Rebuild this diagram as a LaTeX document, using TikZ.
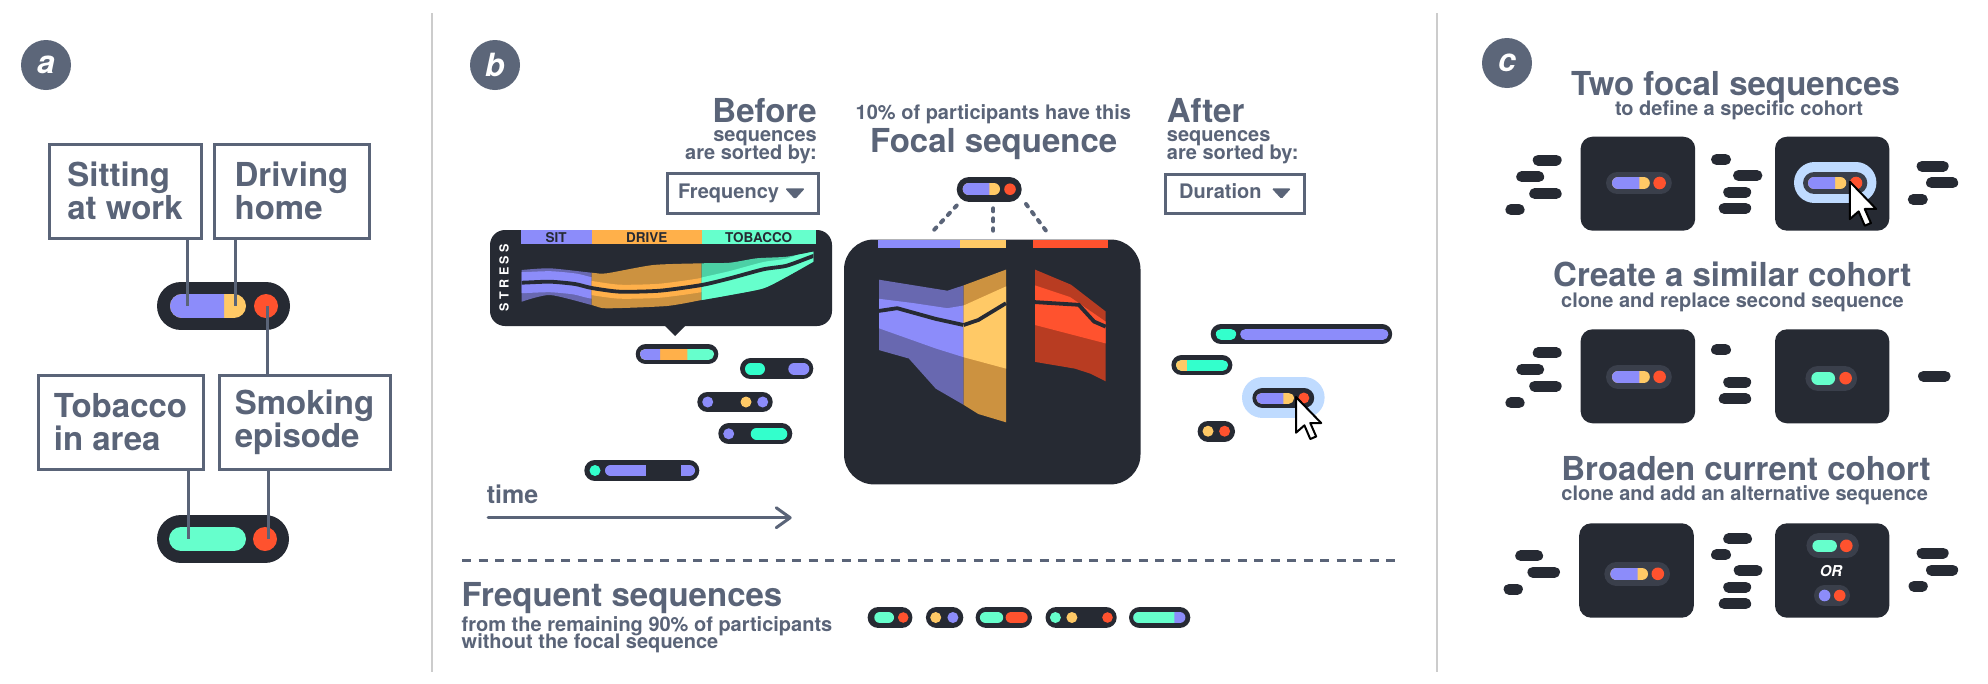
\documentclass[tikz,border=0pt]{standalone}
\usepackage{fontspec}
\setmainfont{TeX Gyre Heros}
\usetikzlibrary{arrows.meta}
\definecolor{cTg}{RGB}{90,100,120}
\definecolor{cLab}{RGB}{92,102,121}
\definecolor{cDk}{RGB}{38,42,51}
\definecolor{cDkB}{RGB}{58,63,75}
\definecolor{cPu}{RGB}{140,140,250}
\definecolor{cPuD}{RGB}{104,104,176}
\definecolor{cYe}{RGB}{255,201,102}
\definecolor{cYeD}{RGB}{204,146,64}
\definecolor{cOr}{RGB}{255,176,74}
\definecolor{cTe}{RGB}{102,255,204}
\definecolor{cTeB}{RGB}{51,255,204}
\definecolor{cTeD}{RGB}{76,208,165}
\definecolor{cRd}{RGB}{255,82,46}
\definecolor{cRdD}{RGB}{184,60,34}
\definecolor{cHl}{RGB}{191,219,255}
\definecolor{cDiv}{RGB}{204,204,204}
\newcommand\fbig{\fontsize{33}{33}\selectfont\bfseries}
\newcommand\fsub{\fontsize{20}{18}\selectfont\bfseries}
\newcommand\fblock{\fontsize{20}{18}\selectfont\bfseries\lineskiplimit=-100pt\relax}
% y, h, x1, x2, style
\newcommand\pillbar[5]{\draw[line width=#2, line cap=round, #5] ({#3+#2/2},#1) -- ({#4-#2/2},#1);}
% y, h, x1, x2, xa, xb, style
\newcommand\pillseg[7]{\begin{scope}\clip (#5,{#1-#2}) rectangle (#6,{#1+#2});\pillbar{#1}{#2}{#3}{#4}{#7}\end{scope}}
\newcommand\stresscenter{(505,283) (521.7,282.7) (550,281.7) (575,284) (591.7,288) (620,291.7) (660,290.7) (701.7,285) (730,278.3) (763.3,269.3) (786.7,265.7) (813.3,256) (828,252)}
\tikzset{
  abox/.style={draw=cTg, line width=3, align=left, font=\fbig, text=cTg, inner sep=0},
  lbl/.style={circle, fill=cLab, minimum size=50, inner sep=0, text=white, font=\fontsize{32}{32}\selectfont\bfseries\itshape},
  gline/.style={draw=cTg, line width=3},
  ttl/.style={anchor=base, font=\fbig, text=cTg, inner sep=0},
  sub/.style={anchor=base, font=\fsub, text=cTg, inner sep=0},
  ddbox/.style={draw=cTg, line width=3, inner sep=0},
  cbox/.style={fill=cDk, rounded corners=12},
  fdots/.style={cTg, line width=4, line cap=round, dash pattern=on 3 off 7},
  mcursor/.pic={\draw[black, fill=white, line width=2, line join=round] (0,0) -- (0,17) -- (4,13.5) -- (6.8,20) -- (9.6,18.8) -- (6.8,12.4) -- (12,12.4) -- cycle;}
}
\begin{document}
\begin{tikzpicture}[x=1pt,y=-1pt]
\useasboundingbox (0,0) rectangle (1988,683);
\fill[white] (0,0) rectangle (1988,683);

% dividers
\coordinate (d1a) at (432,13); \coordinate (d1b) at (432,672);
\coordinate (d2a) at (1437,13); \coordinate (d2b) at (1437,672);
\draw[cDiv, line width=2.5] (d1a) -- (d1b);
\draw[cDiv, line width=2.5] (d2a) -- (d2b);

% ================= panel a
\node[lbl] (la) at (46,65) {a};
\node[abox, minimum width=152, minimum height=94] (sit) at (125,191) {Sitting\\at work};
\node[abox, minimum width=155, minimum height=94] (drv) at (291.5,191) {Driving\\home};
\node[abox, minimum width=165, minimum height=94] (tob) at (120.5,422) {Tobacco\\in area};
\node[abox, minimum width=171, minimum height=94] (smk) at (304.5,422) {Smoking\\episode};
% top pill
\pillbar{306}{48}{157}{290}{cDk}
\pillbar{306}{24}{170}{246}{cYe}
\pillseg{306}{24}{170}{246}{160}{224}{cPu}
\fill[cRd] (266,306) circle (12);
% bottom pill
\pillbar{539}{48}{157}{289}{cDk}
\pillbar{539}{24}{169}{246}{cTe}
\fill[cRd] (265,539) circle (12);
\coordinate (pS) at (187,306);
\coordinate (pD) at (235,306);
\coordinate (pR) at (267,306);
\coordinate (qT) at (188,539);
\coordinate (qR) at (268,539);
\draw[gline] (sit.south -| pS) -- (pS);
\draw[gline] (drv.south -| pD) -- (pD);
\draw[gline] (pR) -- (pR |- smk.north);
\draw[gline] (tob.south -| qT) -- (qT);
\draw[gline] (smk.south -| qR) -- (qR);

% ================= panel b
\node[lbl] (lb) at (495,65) {b};
\node[anchor=north east, font=\fblock, text=cTg, inner sep=0, align=right] (bef) at (817,98) {{\fbig Before}\\[1.5pt]sequences\\[-0.4pt]are sorted by:};
\node[ddbox, minimum width=151, minimum height=40] (freq) at (742.5,193) {};
\node[anchor=base west, font=\fsub, text=cTg, inner sep=0] (freqt) at (678,198) {Frequency};
\fill[cTg, rounded corners=1.5] (785,188.3) -- (805,188.3) -- (795,199.3) -- cycle;

% stress chart
\fill[cDk, rounded corners=15] (490,230) rectangle (832,326);
\fill[cDk] (664,325) -- (686,325) -- (675,336) -- cycle;
\fill[cPu] (521,230) rectangle (591.7,244);
\fill[cOr] (591.7,230) rectangle (701.7,244);
\fill[cTe] (701.7,230) rectangle (815.5,244);
\node[font=\fontsize{13.5}{13.5}\selectfont\bfseries, text=cDk, inner sep=0] (hsit) at (556,237.5) {SIT};
\node[font=\fontsize{13.5}{13.5}\selectfont\bfseries, text=cDk, inner sep=0] (hdrv) at (646.7,237.5) {DRIVE};
\node[font=\fontsize{13.5}{13.5}\selectfont\bfseries, text=cDk, inner sep=0] (htob) at (758.7,237.5) {TOBACCO};
\node[rotate=90, font=\fontsize{12.5}{12.5}\selectfont\bfseries, text=white, inner sep=0] (stress) at (504,277.5) {S\kern3.4ptT\kern3.4ptR\kern3.4ptE\kern3.4ptS\kern3.4ptS};
\begin{scope}
\clip plot[smooth, tension=0.4] coordinates {(521.7,270) (550,268.3) (591.7,272.7) (606.7,273.3) (653.3,265) (701.7,263.3) (730,262.7) (756.7,258.3) (786.7,256.7) (813.3,251.7)}
  -- plot[smooth, tension=0.4] coordinates {(813.3,261.7) (786.7,276.7) (763.3,288.3) (730,295) (701.7,300) (666.7,306) (606.7,308.3) (591.7,305) (550,295) (521.7,301.7)} -- cycle;
\begin{scope}
\clip (500,240) rectangle (591.7,320);
\fill[cPuD] (500,240) rectangle (600,320);
\draw[cPu, line width=21] plot[smooth, tension=0.4] coordinates {\stresscenter};
\end{scope}
\begin{scope}
\clip (591.7,240) rectangle (701.7,320);
\fill[cYeD] (580,240) rectangle (710,320);
\draw[cOr, line width=14] plot[smooth, tension=0.4] coordinates {\stresscenter};
\end{scope}
\begin{scope}
\clip (701.7,240) rectangle (815,320);
\fill[cTeD] (700,240) rectangle (820,320);
\fill[cTe] plot[smooth, tension=0.4] coordinates {(690,281) (701.7,277.5) (730,271) (763.3,262) (786.7,258.5) (813.3,249) (828,245)} -- (828,320) -- (690,320) -- cycle;
\end{scope}
\draw[cDk, line width=3.8] plot[smooth, tension=0.4] coordinates {\stresscenter};
\end{scope}

% before sequences
\pillbar{354.3}{20}{635.7}{718.3}{cDk}
\pillbar{354.3}{11}{640}{714}{cTe}
\pillseg{354.3}{11}{640}{714}{630}{687.3}{cOr}
\pillseg{354.3}{11}{640}{714}{630}{660}{cPu}
\pillbar{368.8}{21}{740}{813.3}{cDk}
\pillbar{368.8}{11.5}{745}{765}{cTeB}
\pillbar{368.8}{11.5}{788.3}{809.3}{cPu}
\pillbar{402}{20.6}{697.3}{772.7}{cDk}
\fill[cPu] (707.7,402) circle (5.5);
\fill[cYe] (746,402) circle (5.5);
\fill[cPu] (762.7,402) circle (5.5);
\pillbar{433.8}{21}{718.3}{792.3}{cDk}
\fill[cPu] (728.7,433.8) circle (5.5);
\pillbar{433.8}{11.5}{750.7}{787.3}{cTeB}
\pillbar{470.5}{21}{584.3}{699.3}{cDk}
\fill[cTeB] (595,470.5) circle (5.5);
\pillbar{470.5}{11.5}{605}{695}{cPu}
\fill[cDk] (645.7,464) rectangle (680.7,477);

% time arrow
\node[anchor=base west, font=\fontsize{25}{25}\selectfont\bfseries, text=cTg, inner sep=0] (time) at (486.7,503.3) {time};
\coordinate (ta) at (488,517.7);
\coordinate (tb) at (791.7,517.7);
\draw[cTg, line width=3, line cap=round, -{Straight Barb[length=14pt,width=20pt,round]}] (ta) -- (tb);

% focal
\node[anchor=base, font=\fsub, text=cTg, inner sep=0] (pct) at (993.4,119.6) {10\% of participants have this};
\node[ttl] (focal) at (993.7,152) {Focal sequence};
\pillbar{189.2}{25}{956.7}{1021.7}{cDk}
\pillbar{189.2}{12}{962.7}{1000}{cYe}
\pillseg{189.2}{12}{962.7}{1000}{955}{989.3}{cPu}
\fill[cRd] (1010,189.2) circle (5.8);
\coordinate (f1a) at (956.7,205.5); \coordinate (f1b) at (933.3,230.7);
\coordinate (f2a) at (993.3,208.3); \coordinate (f2b) at (993.3,230.7);
\coordinate (f3a) at (1026,204); \coordinate (f3b) at (1046,230.7);
\draw[fdots] (f1a) -- (f1b);
\draw[fdots] (f2a) -- (f2b);
\draw[fdots] (f3a) -- (f3b);
\fill[cDk, rounded corners=30] (844,239.5) rectangle (1140.5,484.4);
\fill[cPu] (877.9,239.5) rectangle (960,247.5);
\fill[cYe] (960,239.5) rectangle (1006,247.5);
\fill[cRd] (1032.7,239.5) rectangle (1107.6,247.5);
% purple stream
\fill[cPuD] (879,279.7) -- (947.4,290.7) -- (963.6,285.4) -- (963.6,404.8) -- (935.8,388.7) -- (908.8,358.5) -- (879,350.1) -- cycle;
\fill[cPu] (879,298.8) -- (912.7,303) -- (947.4,308.2) -- (963.6,305.5) -- (963.6,357.2) -- (935.8,348.5) -- (879,328.3) -- cycle;
\draw[cDk, line width=3.8] (879,310.9) -- (897.2,308.2) -- (935.8,318.9) -- (963.6,325);
% yellow stream
\fill[cYeD] (963.6,285.4) -- (1006,269.6) -- (1006,422.3) -- (978.3,414) -- (963.6,404.8) -- cycle;
\fill[cYe] (963.6,305.5) -- (1006,286.4) -- (1006,368.6) -- (963.6,357.2) -- cycle;
\draw[cDk, line width=3.8] (963.6,325) -- (978.3,320) -- (1006,303.2);
% red stream
\fill[cRdD] (1035,269.6) -- (1071,284.7) -- (1105.7,311.5) -- (1105.7,381.3) -- (1090.3,373.6) -- (1074.8,368.6) -- (1035,361.9) -- cycle;
\fill[cRd] (1035,285.4) -- (1070,297) -- (1105.7,321.6) -- (1105.7,343.4) -- (1035,325) -- cycle;
\draw[cDk, line width=3.8] (1035,302.1) -- (1078.7,304.8) -- (1094.1,321.6) -- (1105.7,326.6);

% after
\node[anchor=north west, font=\fblock, text=cTg, inner sep=0, align=left] (aft) at (1166.7,98) {{\fbig After}\\[1.5pt]sequences\\[-0.4pt]are sorted by:};
\node[ddbox, minimum width=139, minimum height=39] (dur) at (1235.1,193.5) {};
\node[anchor=base west, font=\fsub, text=cTg, inner sep=0] (durt) at (1179,198.5) {Duration};
\fill[cTg, rounded corners=1.5] (1271.7,188.4) -- (1291,188.4) -- (1281.4,199) -- cycle;
\pillbar{334.2}{20.4}{1210.7}{1392.2}{cDk}
\pillbar{334.2}{11}{1215.8}{1236.2}{cTeB}
\pillbar{334.2}{11}{1240.2}{1388.3}{cPu}
\pillbar{365.2}{20.3}{1171.4}{1232.4}{cDk}
\pillbar{365.2}{11}{1176}{1228}{cTeB}
\pillseg{365.2}{11}{1176}{1228}{1170}{1186.8}{cYe}
\pillbar{397.7}{41.3}{1242}{1324.6}{cHl}
\pillbar{398}{20.5}{1252.4}{1314.2}{cDk}
\pillbar{398}{11}{1256.3}{1294}{cYe}
\pillseg{398}{11}{1256.3}{1294}{1250}{1283.3}{cPu}
\fill[cRd] (1303.8,398) circle (5.5);
\pic[scale=2.1] at (1296,397) {mcursor};
\pillbar{431.2}{21}{1197.6}{1235}{cDk}
\fill[cYe] (1208,431.2) circle (5.5);
\fill[cRd] (1224.6,431.2) circle (5.5);

% dashed separator
\coordinate (s1) at (462,560); \coordinate (s2) at (1395,560);
\draw[cTg, line width=3, dash pattern=on 9 off 7.5] (s1) -- (s2);

% frequent
\node[anchor=north west, font=\fblock, text=cTg, inner sep=0, align=left] (freqs) at (461.5,582.7) {{\fbig Frequent sequences}\\[7pt]from the remaining 90\% of participants\\[-1.4pt]without the focal sequence};
\pillbar{617.5}{21.6}{867.6}{912.4}{cDk}
\pillbar{617.5}{11.6}{874.3}{894}{cTe}
\fill[cRd] (903.2,617.5) circle (5.3);
\pillbar{617.5}{21.6}{925.9}{963.3}{cDk}
\fill[cYe] (935.7,617.5) circle (5.5);
\fill[cPu] (952.9,617.5) circle (5.5);
\pillbar{617.5}{21.6}{975.6}{1032}{cDk}
\pillbar{617.5}{11.6}{979.9}{1003.2}{cTe}
\pillbar{617.5}{11.6}{1005.6}{1027.7}{cRd}
\pillbar{617.5}{21.6}{1045.5}{1116.7}{cDk}
\fill[cTe] (1055.4,617.5) circle (5.5);
\fill[cYe] (1071.9,617.5) circle (5.5);
\fill[cRd] (1107.5,617.5) circle (5.3);
\pillbar{617.5}{21.6}{1129}{1190.3}{cDk}
\pillbar{617.5}{11.6}{1133.3}{1185.4}{cPu}
\pillseg{617.5}{11.6}{1133.3}{1185.4}{1125}{1174.4}{cTe}

% ================= panel c
\node[lbl] (lc) at (1507,63) {c};
\node[ttl] (t1) at (1735.5,95) {Two focal sequences};
\node[sub] (s1t) at (1739,115) {to define a specific cohort};
\node[ttl] (t2) at (1732.3,286.7) {Create a similar cohort};
\node[sub] (s2t) at (1732.5,307.3) {clone and replace second sequence};
\node[ttl] (t3) at (1746,480) {Broaden current cohort};
\node[sub] (s3t) at (1744.7,500) {clone and add an alternative sequence};

% row 1
\fill[cbox] (1580.6,136.7) rectangle (1695.2,230.7);
\fill[cbox] (1775,136.7) rectangle (1889.3,230.7);
\pillbar{183}{22.6}{1606}{1671.8}{cDkB}
\pillbar{183}{12.6}{1612}{1649.8}{cYe}
\pillseg{183}{12.6}{1612}{1649.8}{1600}{1639.3}{cPu}
\fill[cRd] (1659.6,183) circle (6.3);
\pillbar{182.8}{41}{1794}{1876.4}{cHl}
\pillbar{183}{22.6}{1803}{1867.3}{cDkB}
\pillbar{183}{12.6}{1808}{1846.3}{cYe}
\pillseg{183}{12.6}{1808}{1846.3}{1800}{1835}{cPu}
\fill[cRd] (1856,183) circle (6.3);
\pic[scale=2.2] at (1849.8,181.7) {mcursor};
\foreach \xa/\xb/\yy in {1532.7/1561.7/160, 1516.2/1544.2/176.7, 1529.2/1561.7/193.6, 1505.4/1524.6/209.6,
  1711/1731/159.5, 1733/1762.4/175.5, 1723.2/1751.2/192.2, 1718.7/1751.2/208.3,
  1916.6/1948.7/166.2, 1926/1958.2/182.8, 1907.8/1927.8/199.5,
  1532.7/1561.7/352.8, 1516.2/1544.2/369.5, 1529.2/1561.7/386.2, 1505.4/1524.6/402.8,
  1711/1731/349.7, 1723.2/1751.2/382.2, 1718.7/1751.2/398.8,
  1918/1950.5/376.2,
  1515.2/1543.1/555.7, 1527.4/1560/572.2, 1503.6/1522.9/589.2,
  1723.2/1752/538.8, 1711/1731/554.7, 1733.7/1762.4/570.3, 1723.2/1751.2/587.2, 1718.7/1751.2/603.8,
  1916.6/1948.7/553, 1926/1958.2/570, 1908.5/1927.8/586.2}
  {\pillbar{\yy}{11}{\xa}{\xb}{cDk}}

% row 2
\fill[cbox] (1580.6,329.3) rectangle (1695.2,423.3);
\fill[cbox] (1775,329.3) rectangle (1889.3,423.3);
\pillbar{376.8}{24}{1606}{1671.8}{cDkB}
\pillbar{376.8}{12.6}{1612}{1649.8}{cYe}
\pillseg{376.8}{12.6}{1612}{1649.8}{1600}{1639.3}{cPu}
\fill[cRd] (1659.6,376.8) circle (6.3);
\pillbar{378.2}{25}{1805.4}{1857.1}{cDkB}
\pillbar{378.2}{12.6}{1811.3}{1835.1}{cTe}
\fill[cRd] (1845.6,378.2) circle (6.3);

% row 3
\fill[cbox] (1579.2,523.3) rectangle (1693.8,617.7);
\fill[cbox] (1775,523.3) rectangle (1889.3,617.7);
\pillbar{573.8}{24}{1604.3}{1670}{cDkB}
\pillbar{573.8}{12.6}{1610.3}{1648}{cYe}
\pillseg{573.8}{12.6}{1610.3}{1648}{1600}{1637.6}{cPu}
\fill[cRd] (1657.8,573.8) circle (6.3);
\pillbar{545.8}{25}{1806.4}{1858.9}{cDkB}
\pillbar{545.8}{12.6}{1812.4}{1836.9}{cTe}
\fill[cRd] (1846.3,545.8) circle (6.3);
\node[font=\fontsize{15}{15}\selectfont\bfseries\itshape, text=white, inner sep=0] (ortxt) at (1831,570.7) {OR};
\pillbar{595.5}{21}{1814}{1850}{cDkB}
\fill[cPu] (1824.6,595.5) circle (5.8);
\fill[cRd] (1839.7,595.5) circle (5.8);
\end{tikzpicture}
\end{document}
